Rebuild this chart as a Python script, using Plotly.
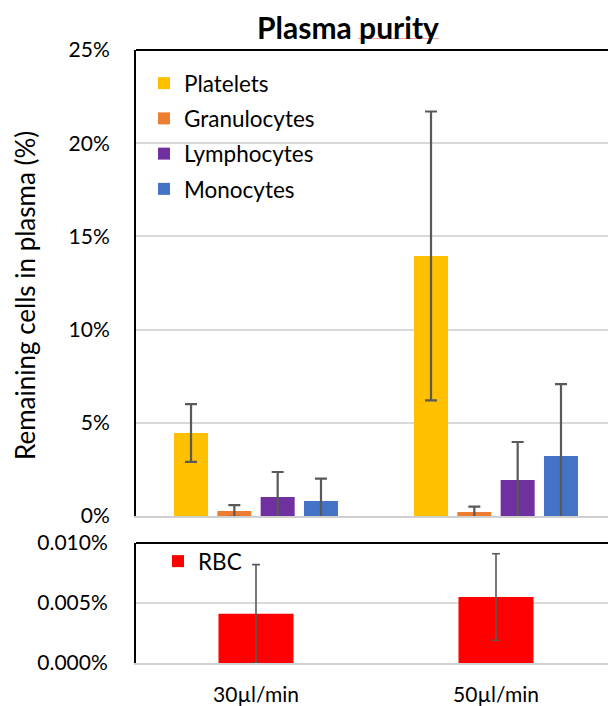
import plotly.graph_objects as go

categories = ["30µl/min", "50µl/min"]
series_names = ["Platelets", "Granulocytes", "Lymphocytes", "Monocytes"]
platelets = [4.45, 13.95]
platelets_err = [1.55, 7.75]
granulocytes = [0.27, 0.21]
granulocytes_err = [0.31, 0.29]
lymphocytes = [1.02, 1.93]
lymphocytes_err = [1.34, 2.04]
monocytes = [0.80, 3.22]
monocytes_err = [1.2, 3.86]
rbc = [0.0041, 0.0055]
rbc_err = [0.0041, 0.0036]

top_ticks = [0, 5, 10, 15, 20, 25]
top_ticktext = ["0%", "5%", "10%", "15%", "20%", "25%"]
bottom_ticks = [0, 0.005, 0.01]
bottom_ticktext = ["0.000%", "0.005%", "0.010%"]

colors = ["#FFC000", "#ED7D31", "#7030A0", "#4472C4"]
FONT = "Lato"

fig = go.Figure()
vals = [platelets, granulocytes, lymphocytes, monocytes]
errs = [platelets_err, granulocytes_err, lymphocytes_err, monocytes_err]
for i, (name, v, e) in enumerate(zip(series_names, vals, errs)):
    fig.add_trace(go.Bar(
        x=categories, y=v, name=name, marker_color=colors[i], marker_line_width=0,
        error_y=dict(type="data", array=e, visible=True, color="#595959", thickness=2.2, width=6),
        xaxis="x", yaxis="y", legend="legend", legendgroup=name,
    ))

fig.add_trace(go.Bar(
    x=categories, y=rbc, name="RBC", marker_color="#FF0000", marker_line_width=0,
    width=0.3125,
    error_y=dict(type="data", array=rbc_err, visible=True, color="#595959", thickness=1.6, width=4),
    xaxis="x2", yaxis="y2", legend="legend2",
))

# page body adds an 8px offset; figure is sized to fill the rest of the window
OFF = 8
W = 616 - OFF
H = 706 - OFF
B = 43
T = 50 - OFF
L = 136 - OFF
ph = H - T - B

def py(ypx):
    return (706 - B - ypx) / ph

def px(xpx):
    return (xpx - 136) / (W - L)

fig.update_layout(
    width=W, height=H,
    margin=dict(l=L, r=0, t=T, b=B),
    paper_bgcolor="white", plot_bgcolor="white",
    font=dict(family=FONT, size=21, color="#000000"),
    barmode="group", bargap=0.278, bargroupgap=0.215,
    title=dict(text="<b>Plasma purity</b>", x=(348 - OFF) / W, xref="container", xanchor="center",
               y=1 - (28 - OFF) / H, yref="container", yanchor="middle",
               font=dict(family=FONT, size=30, color="#000000")),
    xaxis=dict(domain=[0, 1], anchor="y", range=[-0.5, 1.5], showticklabels=False,
               showline=True, linecolor="#D0D0D0", linewidth=2, ticks="", showgrid=False, zeroline=False),
    yaxis=dict(domain=[py(516), 1], anchor="x", range=[0, 25], tickmode="array",
               tickvals=top_ticks, ticktext=top_ticktext,
               showline=True, linecolor="#000000", linewidth=2,
               showgrid=True, gridcolor="#D9D9D9", gridwidth=1.5, zeroline=False,
               ticks="", ticklabelstandoff=20),
    xaxis2=dict(domain=[0, 1], anchor="y2", range=[-0.5, 1.5], showline=True, linecolor="#D0D0D0",
                linewidth=2, ticks="", showgrid=False, zeroline=False, ticklabelstandoff=12),
    yaxis2=dict(domain=[0, py(543)], anchor="x2", range=[0, 0.01], tickmode="array",
                tickvals=bottom_ticks, ticktext=bottom_ticktext,
                showline=True, linecolor="#000000", linewidth=2,
                showgrid=True, gridcolor="#D9D9D9", gridwidth=1.5, zeroline=False,
                ticks="", ticklabelstandoff=22),
    legend=dict(x=px(144), y=py(62), xanchor="left", yanchor="top",
                bgcolor="rgba(0,0,0,0)", tracegroupgap=3, font=dict(size=22.5)),
    legend2=dict(x=px(158), y=py(540), xanchor="left", yanchor="top",
                 bgcolor="rgba(0,0,0,0)", font=dict(size=22.5)),
    annotations=[
        dict(text="Remaining cells in plasma (%)", textangle=-90, xref="paper", yref="paper",
             x=px(25), y=py(296), xanchor="center", yanchor="middle", showarrow=False,
             font=dict(family=FONT, size=26, color="#000000")),
    ],
    shapes=[
        dict(type="line", xref="x domain", yref="y domain", x0=0, x1=1, y0=1, y1=1,
             line=dict(color="#000000", width=2)),
        dict(type="line", xref="x2 domain", yref="y2 domain", x0=0, x1=1, y0=1, y1=1,
             line=dict(color="#000000", width=2)),
        dict(type="line", xref="paper", yref="paper", x0=px(358), x1=px(439),
             y0=py(38.5), y1=py(38.5), line=dict(color="#F2A0A0", width=1)),
    ],
)

fig.write_html("out.html")
